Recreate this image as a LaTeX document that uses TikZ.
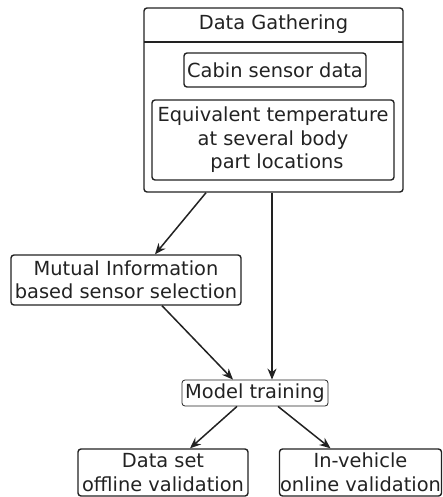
\documentclass[tikz,border=0pt]{standalone}
\usepackage{fontspec}
\setmainfont{DejaVu Sans}
\usetikzlibrary{arrows.meta}
\definecolor{ink}{HTML}{222222}
\tikzset{
  box/.style={draw=ink, line width=1.4pt, rounded corners=3pt, text=ink,
    inner sep=0pt, align=center, font=\fontsize{19.4}{23.5}\selectfont},
  thinbox/.style={box, line width=0.8pt},
  flow/.style={draw=ink, line width=1.5pt, -{Stealth[length=11pt,width=9pt]}},
}
\begin{document}
\begin{tikzpicture}[x=1pt, y=-1pt]
\useasboundingbox (0,0) rectangle (442,497);

% container for the gathered data
\node[box, minimum width=259pt, minimum height=184pt] (gather) at (273.5,100) {};
\draw[ink, line width=1.4pt] (144,42) -- (403,42);
\node[text=ink, font=\fontsize{19.4}{23.5}\selectfont] (title) at (273.5,24) {Data Gathering};

\node[box, minimum width=182pt, minimum height=34pt] (cabin) at (275,70) {Cabin sensor data};
\node[box, minimum width=242pt, minimum height=80pt] (equiv) at (273,140)
  {Equivalent temperature\\at several body\\\hspace*{8pt}part locations};

\node[box, minimum width=230pt, minimum height=50pt] (mutual) at (126,280)
  {Mutual Information\\based sensor selection};

\node[thinbox, minimum width=146pt, minimum height=26pt] (train) at (255,393) {Model training};

\node[box, minimum width=170pt, minimum height=47pt] (offline) at (163,472.5)
  {Data set\\offline validation};
\node[box, minimum width=162pt, minimum height=47pt] (online) at (360.5,472.5)
  {In-vehicle\\online validation};

% connectors
\coordinate (gL) at ([xshift=-67.5pt]gather.south);
\coordinate (gM) at ([xshift=-1.5pt]gather.south);
\draw[flow] (gL) -- ([xshift=29pt]mutual.north);
\draw[flow] (gM) -- ([xshift=17pt]train.north);
\draw[flow] ([xshift=36pt]mutual.south) -- ([xshift=-22pt]train.north);
\draw[flow] ([xshift=-18pt]train.south) -- ([xshift=27pt]offline.north);
\draw[flow] ([xshift=23pt]train.south) -- ([xshift=-30pt]online.north);
\end{tikzpicture}
\end{document}
